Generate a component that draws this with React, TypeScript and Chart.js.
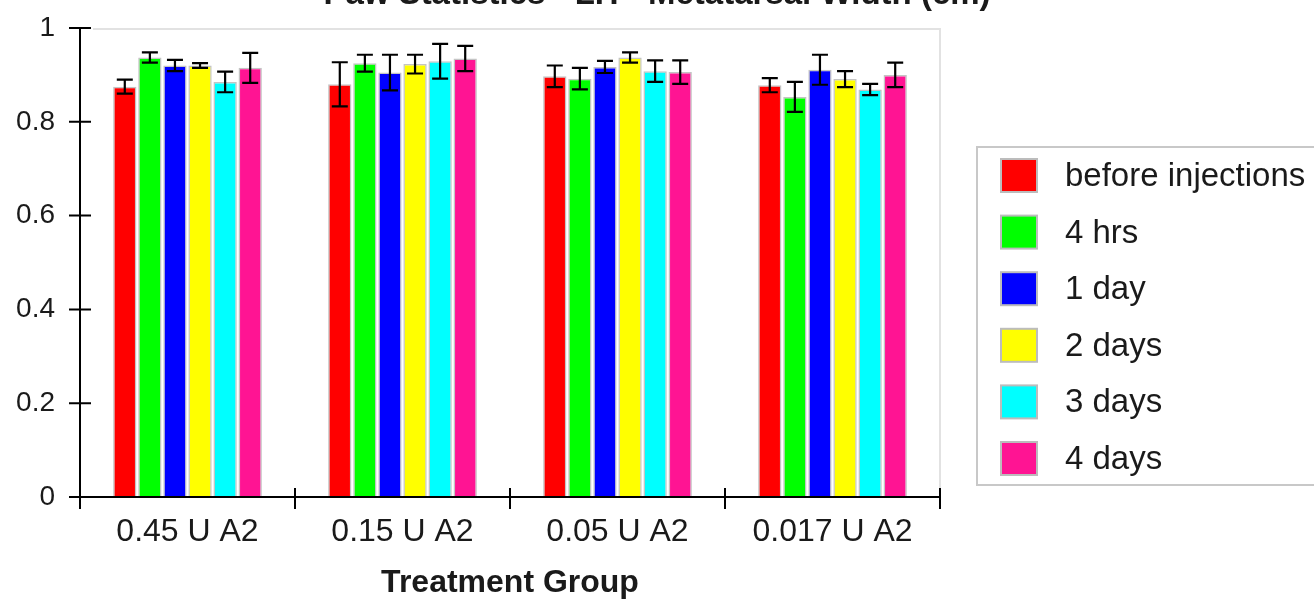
import React, { useEffect, useRef } from "react";
import { Chart, registerables } from "chart.js";

Chart.register(...registerables);

const chartTitle = "Paw Statistics - LH - Metatarsal Width (cm)";
const xAxisTitle = "Treatment Group";
const categories = ["0.45 U A2", "0.15 U A2", "0.05 U A2", "0.017 U A2"];
const seriesLabels = ["before injections", "4 hrs", "1 day", "2 days", "3 days", "4 days"];
const seriesColors = ["#ff0000", "#00ff00", "#0000ff", "#ffff00", "#00ffff", "#ff1493"];

const beforeInjections = [0.875, 0.88, 0.897, 0.878];
const beforeInjectionsErr = [0.015, 0.047, 0.023, 0.015];
const fourHrs = [0.937, 0.925, 0.892, 0.853];
const fourHrsErr = [0.011, 0.018, 0.023, 0.032];
const oneDay = [0.92, 0.905, 0.917, 0.911];
const oneDayErr = [0.012, 0.038, 0.013, 0.032];
const twoDays = [0.92, 0.923, 0.937, 0.891];
const twoDaysErr = [0.005, 0.02, 0.011, 0.017];
const threeDays = [0.885, 0.929, 0.908, 0.869];
const threeDaysErr = [0.022, 0.037, 0.023, 0.012];
const fourDays = [0.915, 0.935, 0.906, 0.9];
const fourDaysErr = [0.032, 0.027, 0.025, 0.026];

const seriesValues = [beforeInjections, fourHrs, oneDay, twoDays, threeDays, fourDays];
const seriesErrors = [beforeInjectionsErr, fourHrsErr, oneDayErr, twoDaysErr, threeDaysErr, fourDaysErr];

const yMin = 0;
const yMax = 1;
const yStep = 0.2;

const FONT = "'Liberation Sans', Arial, sans-serif";
const TEXT = "#1a1a1a";

const decorPlugin = {
  id: "decor",
  beforeDatasetsDraw(chart: any) {
    const { ctx, chartArea } = chart;
    ctx.save();
    ctx.strokeStyle = "#e2e2e2";
    ctx.lineWidth = 2;
    ctx.beginPath();
    ctx.moveTo(chartArea.left + 13, chartArea.top + 1);
    ctx.lineTo(chartArea.right, chartArea.top + 1);
    ctx.lineTo(chartArea.right, chartArea.bottom);
    ctx.stroke();
    ctx.restore();
  },
  afterDatasetsDraw(chart: any) {
    const { ctx, chartArea, scales } = chart;
    const y = scales.y;
    const x = scales.x;
    ctx.save();
    // error bars
    ctx.strokeStyle = "#000";
    ctx.lineWidth = 2.2;
    chart.data.datasets.forEach((ds: any, i: number) => {
      const meta = chart.getDatasetMeta(i);
      meta.data.forEach((el: any, j: number) => {
        const v = seriesValues[i][j];
        const e = seriesErrors[i][j];
        const yt = y.getPixelForValue(v + e);
        const yb = y.getPixelForValue(v - e);
        const cx = el.x;
        ctx.beginPath();
        ctx.moveTo(cx, yt);
        ctx.lineTo(cx, yb);
        ctx.moveTo(cx - 8, yt);
        ctx.lineTo(cx + 8, yt);
        ctx.moveTo(cx - 8, yb);
        ctx.lineTo(cx + 8, yb);
        ctx.stroke();
      });
    });
    // axes
    ctx.lineWidth = 2;
    ctx.strokeStyle = "#000";
    ctx.beginPath();
    ctx.moveTo(chartArea.left, chartArea.top);
    ctx.lineTo(chartArea.left, chartArea.bottom + 12);
    ctx.moveTo(chartArea.left, chartArea.bottom);
    ctx.lineTo(chartArea.right, chartArea.bottom);
    y.ticks.forEach((t: any) => {
      const py = y.getPixelForValue(t.value);
      ctx.moveTo(chartArea.left - 11, py);
      ctx.lineTo(chartArea.left + 11, py);
    });
    const n = categories.length;
    for (let k = 0; k <= n; k++) {
      const px = x.left + ((x.right - x.left) * k) / n;
      ctx.moveTo(px, chartArea.bottom - 9);
      ctx.lineTo(px, chartArea.bottom + 12);
    }
    ctx.stroke();

    // title (partly clipped at top)
    ctx.fillStyle = TEXT;
    ctx.font = `bold 33px ${FONT}`;
    ctx.textAlign = "center";
    ctx.textBaseline = "alphabetic";
    ctx.fillText(chartTitle, chart.width / 2, 4);

    // legend
    const lx = 977, ly = 147, lw = 345, lh = 338;
    ctx.strokeStyle = "#c8c8c8";
    ctx.lineWidth = 2;
    ctx.strokeRect(lx, ly, lw, lh);
    ctx.font = `33px ${FONT}`;
    ctx.textAlign = "left";
    ctx.textBaseline = "middle";
    seriesLabels.forEach((lab, i) => {
      const cy = 175 + i * 56.6;
      ctx.fillStyle = seriesColors[i];
      ctx.fillRect(1001, cy - 16, 36, 33);
      ctx.strokeStyle = "#bcbcbc";
      ctx.lineWidth = 2;
      ctx.strokeRect(1001, cy - 16, 36, 33);
      ctx.fillStyle = TEXT;
      ctx.fillText(lab, 1065, cy + 2);
    });
    ctx.restore();
  },
};

export default function App() {
  const ref = useRef<HTMLCanvasElement | null>(null);
  useEffect(() => {
    if (!ref.current) return;
    const chart = new Chart(ref.current, {
      type: "bar",
      data: {
        labels: categories,
        datasets: seriesLabels.map((lab, i) => ({
          label: lab,
          data: seriesValues[i],
          backgroundColor: seriesColors[i],
          borderColor: "#c4c4c4",
          borderWidth: 1.5,
          categoryPercentage: 0.7,
          barPercentage: 0.93,
        })),
      },
      options: {
        responsive: false,
        animation: false,
        devicePixelRatio: 1,
        layout: { padding: { top: 28, right: 374, left: 0, bottom: 0 } },
        plugins: {
          legend: { display: false },
          title: { display: false },
          tooltip: { enabled: false },
        },
        scales: {
          x: {
            grid: { display: false },
            border: { display: false },
            ticks: {
              color: TEXT,
              font: { family: FONT, size: 32 },
              padding: 8,
              maxRotation: 0,
              autoSkip: false,
            },
            title: {
              display: true,
              text: xAxisTitle,
              color: TEXT,
              font: { family: FONT, size: 32, weight: "bold", lineHeight: 1.1 },
              padding: { top: 0, bottom: 0 },
            },
            afterFit(scale: any) {
              scale.height = 104;
              scale.paddingLeft = 0;
              scale.paddingRight = 0;
            },
          },
          y: {
            min: yMin,
            max: yMax,
            grid: { display: false, drawTicks: false },
            border: { display: false },
            ticks: {
              stepSize: yStep,
              color: TEXT,
              font: { family: FONT, size: 28 },
              padding: 25,
              callback: (v: any) => String(Number(Number(v).toFixed(2))),
            },
            afterFit(scale: any) {
              scale.width = 80;
              scale.paddingTop = 0;
              scale.paddingBottom = 0;
            },
          },
        },
      } as any,
      plugins: [decorPlugin],
    });
    return () => chart.destroy();
  }, []);
  return (
    <div style={{ position: "absolute", left: 0, top: 0, width: 1314, height: 601, background: "#fff" }}>
      <canvas ref={ref} width={1314} height={601} style={{ display: "block" }} />
    </div>
  );
}
